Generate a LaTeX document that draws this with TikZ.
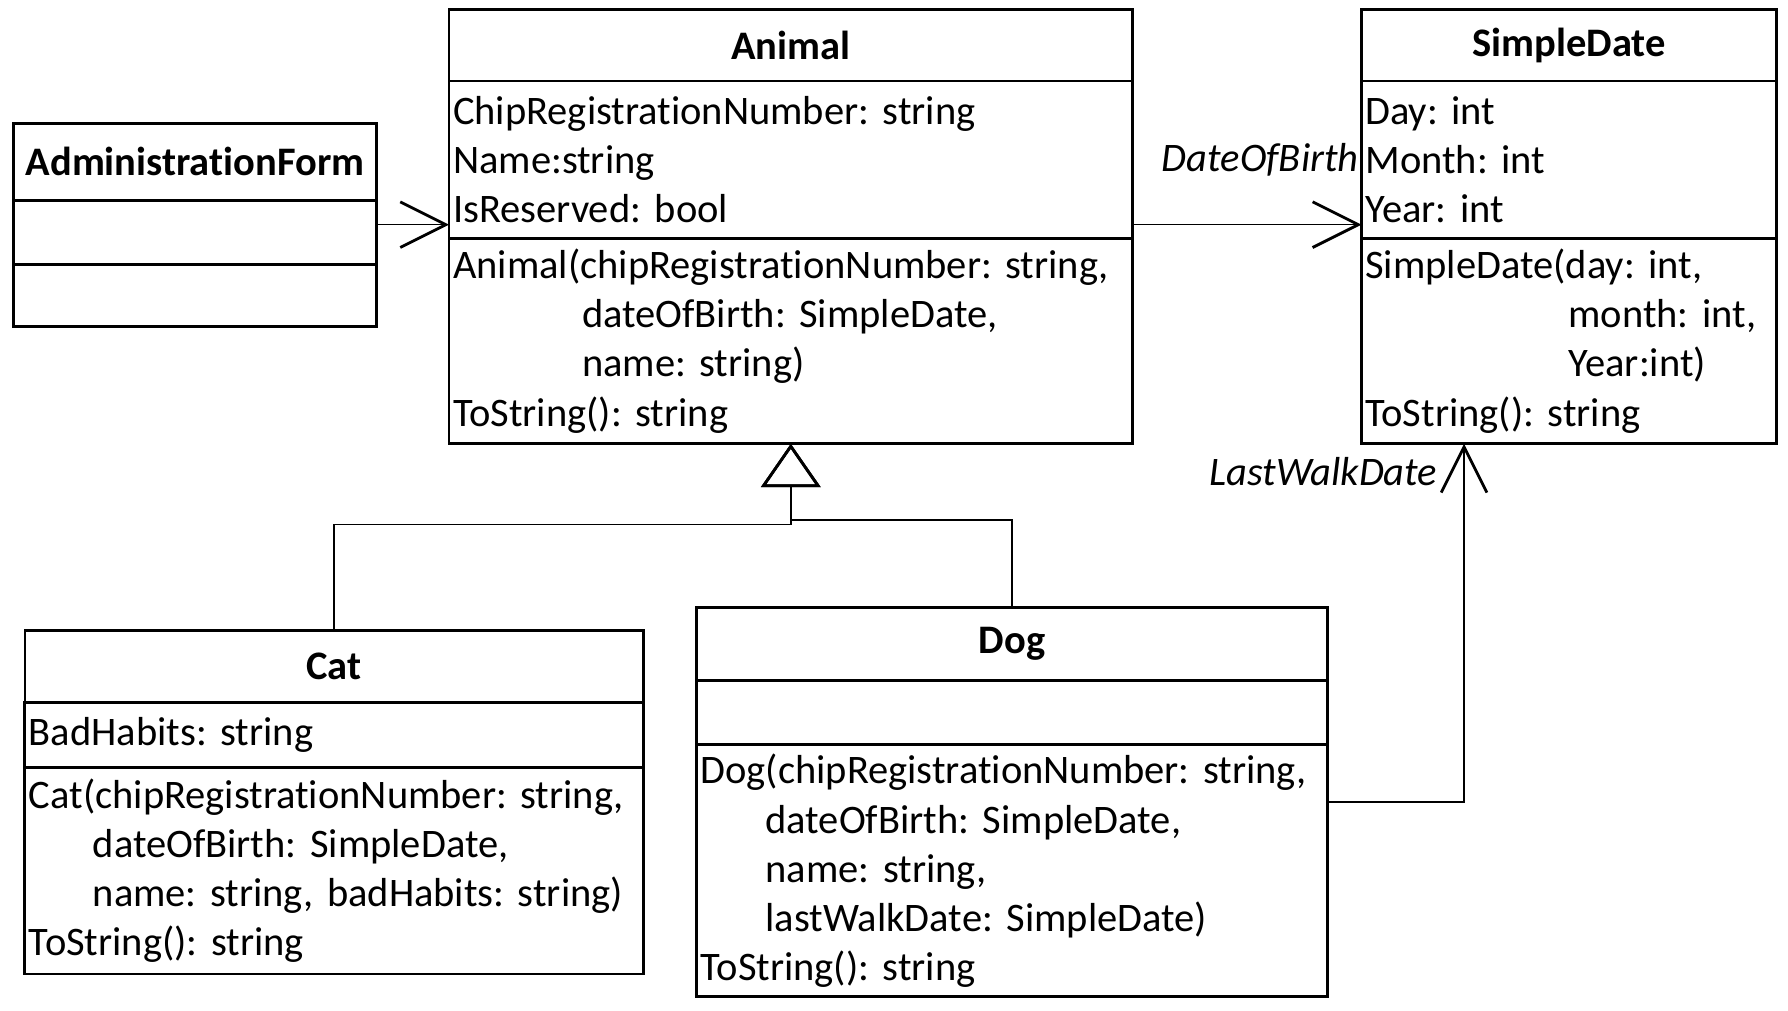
\documentclass[tikz,border=0pt]{standalone}
\usepackage{fontspec}
\setmainfont{Carlito}[Ligatures=NoCommon]
\usetikzlibrary{arrows.meta}

\begin{document}
\fontsize{10.1pt}{12.23pt}\selectfont\frenchspacing
\begin{tikzpicture}[x=0.01cm, y=-0.01cm,
    classname/.style={draw, line width=.7pt, font=\bfseries, anchor=north, inner sep=0pt, outer sep=0pt},
    members/.style={draw, line width=.7pt, anchor=north, align=left, inner xsep=1pt, inner ysep=0pt, outer sep=0pt},
    assoc/.style={line width=.4pt, -{Straight Barb[length=.4cm, width=.4cm, line width=.7pt]}},
    inherit/.style={line width=.4pt, -{Triangle[open, length=.38cm, width=.52cm, line width=.7pt]}},
    role/.style={font=\itshape, inner sep=.5pt}]
    \useasboundingbox (0,0) rectangle (1568,886);

    \node[classname, minimum width=3.18cm, minimum height=.68cm] (admin) at (171,108) {AdministrationForm};
    \node[members, minimum width=3.18cm, minimum height=.56cm] (adminAttr) at (admin.south) {};
    \node[members, minimum width=3.18cm, minimum height=.54cm] (adminOps) at (adminAttr.south) {};

    \node[classname, minimum width=5.99cm, minimum height=.63cm] (animal) at (693.5,8) {Animal};
    \node[members, text width=5.92cm, minimum height=1.38cm] (animalAttr) at (animal.south)
        {ChipRegistrationNumber: string\\Name:string\\IsReserved: bool};
    \node[members, text width=5.92cm, minimum height=1.80cm] (animalOps) at (animalAttr.south)
        {Animal(chipRegistrationNumber: string,\\\hspace*{1.13cm}dateOfBirth: SimpleDate,\\\hspace*{1.13cm}name: string)\\ToString(): string};

    \node[classname, minimum width=3.64cm, minimum height=.63cm] (date) at (1376,8) {SimpleDate};
    \node[members, text width=3.57cm, minimum height=1.38cm] (dateAttr) at (date.south)
        {Day: int\\Month: int\\Year: int};
    \node[members, text width=3.57cm, minimum height=1.80cm] (dateOps) at (dateAttr.south)
        {SimpleDate(day: int,\\\hspace*{1.78cm}month: int,\\\hspace*{1.78cm}Year:int)\\ToString(): string};

    \node[classname, minimum width=5.42cm, minimum height=.63cm] (cat) at (293,553) {Cat};
    \node[members, text width=5.35cm, minimum height=.57cm] (catAttr) at (cat.south)
        {BadHabits: string};
    \node[members, text width=5.35cm, minimum height=1.81cm] (catOps) at (catAttr.south)
        {Cat(chipRegistrationNumber: string,\\\hspace*{.56cm}dateOfBirth: SimpleDate,\\\hspace*{.56cm}name: string, badHabits: string)\\ToString(): string};

    \node[classname, minimum width=5.53cm, minimum height=.64cm] (dog) at (887.5,533) {Dog};
    \node[members, minimum width=5.53cm, minimum height=.56cm] (dogAttr) at (dog.south) {};
    \node[members, text width=5.46cm, minimum height=2.21cm] (dogOps) at (dogAttr.south)
        {Dog(chipRegistrationNumber: string,\\\hspace*{.57cm}dateOfBirth: SimpleDate,\\\hspace*{.57cm}name: string,\\\hspace*{.57cm}lastWalkDate: SimpleDate)\\ToString(): string};

    \coordinate (assocY) at ([yshift=.07cm]adminAttr.east);
    \draw[assoc] (assocY) -- (assocY -| animalAttr.west);
    \draw[assoc] (assocY -| animalAttr.east) -- (assocY -| dateAttr.west)
        node[role, anchor=east, yshift=.57cm] {DateOfBirth};
    \draw[assoc] ([yshift=.605cm]dogOps.east) -| ([xshift=.9cm]dateOps.south west)
        node[role, anchor=east, xshift=-.21cm, yshift=-.24cm] {LastWalkDate};
    \draw[inherit] (cat.north) -- ++(0,-93) -| (animalOps.south);
    \draw[inherit] (dog.north) -- ++(0,-77) -| (animalOps.south);
\end{tikzpicture}
\end{document}
